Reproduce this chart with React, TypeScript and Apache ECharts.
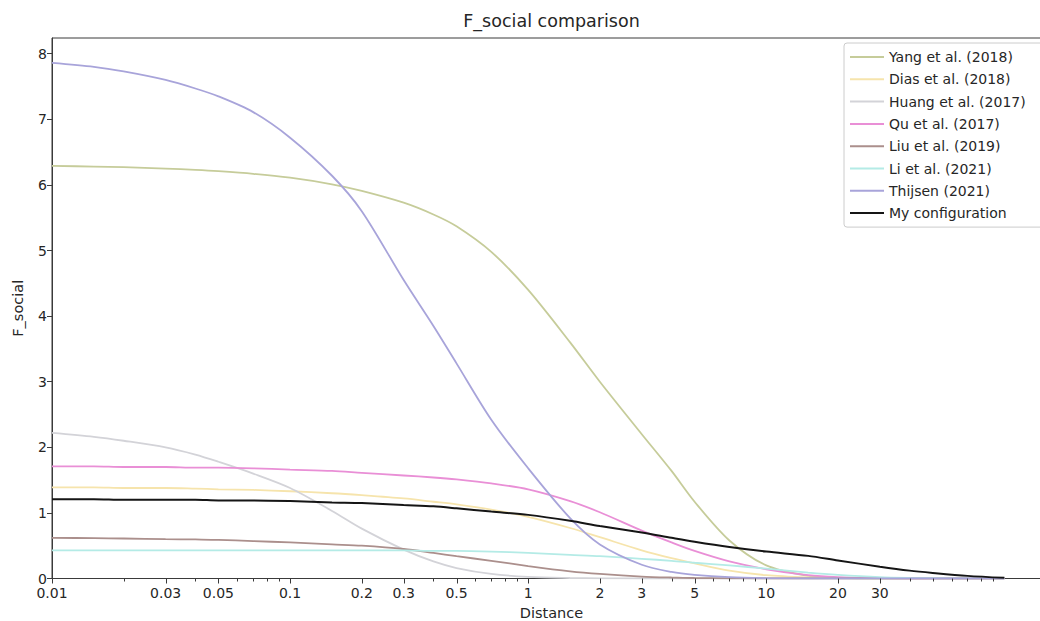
import React, { useEffect, useRef } from "react";
import * as echarts from "echarts";

// Distance sample points (x values)
const distances = [0.01, 0.015, 0.02, 0.03, 0.04, 0.05, 0.07, 0.1, 0.15, 0.2, 0.3, 0.4, 0.5, 0.7, 1, 1.5, 2, 3, 4, 5, 7, 10, 15, 20, 30, 40, 50, 70, 100];

// F_social values, one per distance
const yang2018 = [6.29, 6.28, 6.27, 6.25, 6.23, 6.21, 6.17, 6.11, 6.01, 5.91, 5.73, 5.55, 5.37, 4.98, 4.4, 3.6, 3.0, 2.2, 1.64, 1.17, 0.58, 0.2, 0.04, 0.01, 0, 0, 0, 0, 0];
const dias2018 = [1.39, 1.39, 1.38, 1.38, 1.37, 1.36, 1.35, 1.33, 1.3, 1.27, 1.22, 1.17, 1.13, 1.05, 0.94, 0.77, 0.63, 0.43, 0.31, 0.23, 0.12, 0.05, 0.015, 0.005, 0, 0, 0, 0, 0];
const huang2017 = [2.22, 2.16, 2.1, 2.0, 1.89, 1.78, 1.6, 1.38, 1.03, 0.76, 0.44, 0.26, 0.16, 0.07, 0.025, 0.008, 0.003, 0, 0, 0, 0, 0, 0, 0, 0, 0, 0, 0, 0];
const qu2017 = [1.71, 1.71, 1.7, 1.7, 1.69, 1.69, 1.68, 1.66, 1.64, 1.61, 1.57, 1.54, 1.51, 1.45, 1.36, 1.18, 1.01, 0.73, 0.55, 0.42, 0.26, 0.14, 0.05, 0.02, 0.005, 0, 0, 0, 0];
const liu2019 = [0.62, 0.615, 0.61, 0.6, 0.595, 0.59, 0.57, 0.55, 0.52, 0.5, 0.45, 0.39, 0.34, 0.27, 0.19, 0.11, 0.07, 0.03, 0.015, 0.008, 0.003, 0, 0, 0, 0, 0, 0, 0, 0];
const li2021 = [0.43, 0.43, 0.43, 0.43, 0.43, 0.43, 0.43, 0.43, 0.43, 0.43, 0.43, 0.42, 0.42, 0.41, 0.39, 0.36, 0.34, 0.3, 0.27, 0.24, 0.2, 0.15, 0.09, 0.055, 0.02, 0.008, 0.004, 0.001, 0];
const thijsen2021 = [7.86, 7.8, 7.73, 7.6, 7.47, 7.35, 7.11, 6.72, 6.14, 5.6, 4.55, 3.85, 3.28, 2.42, 1.68, 0.92, 0.52, 0.21, 0.1, 0.055, 0.02, 0.006, 0, 0, 0, 0, 0, 0, 0];
const myConfiguration = [1.21, 1.21, 1.2, 1.2, 1.2, 1.19, 1.19, 1.18, 1.16, 1.15, 1.12, 1.1, 1.07, 1.02, 0.97, 0.88, 0.8, 0.7, 0.62, 0.56, 0.48, 0.41, 0.345, 0.275, 0.18, 0.12, 0.085, 0.04, 0.01];

const seriesNames = [
  "Yang et al. (2018)",
  "Dias et al. (2018)",
  "Huang et al. (2017)",
  "Qu et al. (2017)",
  "Liu et al. (2019)",
  "Li et al. (2021)",
  "Thijsen (2021)",
  "My configuration",
];
const seriesValues = [yang2018, dias2018, huang2017, qu2017, liu2019, li2021, thijsen2021, myConfiguration];
const seriesColors = ["#c6cc9a", "#f6e4ac", "#d3d3d8", "#e98fd6", "#ab8f8c", "#b4ebe6", "#a8a4da", "#151515"];
const seriesWidths = [1.8, 1.8, 1.8, 1.8, 1.8, 1.8, 1.8, 2];

// Axis ticks
const xTickLabels = [0.01, 0.03, 0.05, 0.1, 0.2, 0.3, 0.5, 1, 2, 3, 5, 10, 20, 30];
const xMinorTicks = [0.02, 0.04, 0.06, 0.07, 0.08, 0.09, 0.4, 0.6, 0.7, 0.8, 0.9, 4, 6, 7, 8, 9, 40, 50, 60, 70, 80, 90];
const yTickLabels = [0, 1, 2, 3, 4, 5, 6, 7, 8];

const X_MIN = 0.01;
const X_MAX = 157;

const FONT = "DejaVu Sans";
const TEXT = "#262626";
const SPINE = "#3a3a3a";

export default function App() {
  const ref = useRef<HTMLDivElement>(null);

  useEffect(() => {
    if (!ref.current) return;
    const chart = echarts.init(ref.current, undefined, { renderer: "svg" });
    const series: any[] = seriesNames.map((name, i) => ({
      name,
      type: "line",
      data: distances.map((d, j) => [d, seriesValues[i][j]]),
      symbol: "none",
      showSymbol: false,
      smooth: 0.3,
      lineStyle: { color: seriesColors[i], width: seriesWidths[i] },
      itemStyle: { color: seriesColors[i] },
      z: 2 + i,
    }));

    // x-axis tick marks (major: long, minor: short), placed through the log axis
    const tickData = [
      ...xTickLabels.map((v) => [v, 5]),
      ...xMinorTicks.map((v) => [v, 3]),
    ];
    series.push({
      type: "custom",
      name: "xticks",
      data: tickData,
      clip: false,
      silent: true,
      z: 20,
      legendHoverLink: false,
      renderItem: (_params: any, api: any) => {
        const p = api.coord([api.value(0), 0]);
        const len = api.value(1);
        return {
          type: "line",
          shape: { x1: Math.round(p[0]) + 0.5, y1: p[1], x2: Math.round(p[0]) + 0.5, y2: p[1] + len },
          style: { stroke: SPINE, lineWidth: 1 },
        };
      },
    });

    chart.setOption({
      animation: false,
      backgroundColor: "#ffffff",
      textStyle: { fontFamily: FONT },
      grid: {
        left: 52,
        top: 38,
        width: 999,
        height: 540.5,
        show: true,
        borderColor: SPINE,
        borderWidth: 1,
        backgroundColor: "transparent",
        containLabel: false,
        outerBoundsMode: "none",
      },
      graphic: [
        {
          type: "text",
          x: 551.5,
          y: 21,
          style: {
            text: "F_social comparison",
            fontFamily: FONT,
            fontSize: 17.5,
            fill: TEXT,
            textAlign: "center",
            textVerticalAlign: "middle",
          },
        },
      ],
      xAxis: {
        type: "log",
        logBase: 10,
        min: X_MIN,
        max: X_MAX,
        position: "bottom",
        name: "Distance",
        nameLocation: "middle",
        nameGap: 27,
        nameTextStyle: { fontFamily: FONT, fontSize: 14.5, color: TEXT },
        axisLine: { show: true, onZero: false, lineStyle: { color: SPINE, width: 1 } },
        axisTick: { show: false },
        axisLabel: {
          customValues: xTickLabels,
          formatter: (v: number) => String(v),
          fontFamily: FONT,
          fontSize: 14,
          color: TEXT,
          margin: 7,
        },
        splitLine: { show: false },
        minorTick: { show: false },
      },
      yAxis: {
        type: "value",
        min: 0,
        max: 8.24,
        name: "F_social",
        nameLocation: "middle",
        nameGap: 27,
        nameTextStyle: { fontFamily: FONT, fontSize: 14.5, color: TEXT },
        axisLine: { show: true, onZero: false, lineStyle: { color: SPINE, width: 1 } },
        axisTick: { show: true, customValues: yTickLabels, length: 5, lineStyle: { color: SPINE, width: 1 } },
        axisLabel: {
          customValues: yTickLabels,
          formatter: (v: number) => String(v),
          fontFamily: FONT,
          fontSize: 14,
          color: TEXT,
          margin: 5,
        },
        splitLine: { show: false },
      },
      legend: {
        orient: "vertical",
        left: 844,
        top: 43,
        padding: [6, 24, 6, 6],
        icon: "rect",
        itemWidth: 34,
        itemHeight: 2,
        itemGap: 6.3,
        backgroundColor: "rgba(255,255,255,0.85)",
        borderColor: "#cccccc",
        borderWidth: 1,
        borderRadius: 3,
        selectedMode: false,
        textStyle: { fontFamily: FONT, fontSize: 14, color: TEXT, lineHeight: 16 },
        data: seriesNames,
      },
      series,
    });

    return () => chart.dispose();
  }, []);

  return (
    <div
      ref={ref}
      style={{ position: "fixed", left: 0, top: 0, width: 1040, height: 621, background: "#fff" }}
    />
  );
}
